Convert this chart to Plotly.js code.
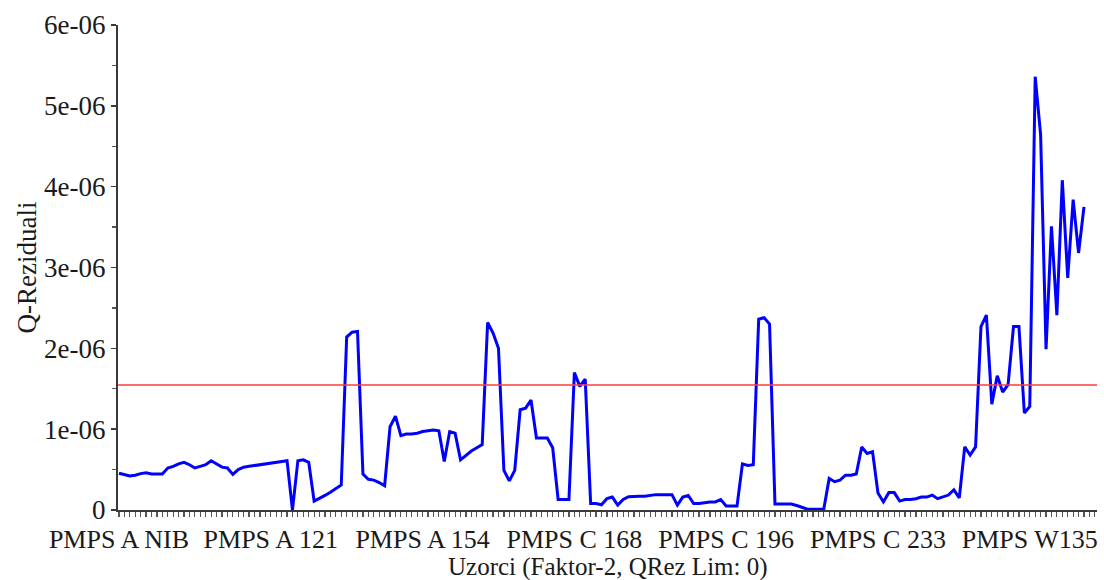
<!DOCTYPE html>
<html>
<head>
<meta charset="utf-8">
<script src="https://cdn.plot.ly/plotly-3.0.1.min.js"></script>
<style>html,body{margin:0;padding:0;background:#fff;}#chart{width:1104px;height:580px;}</style>
</head>
<body>
<div id="chart"></div>
<script>
// Q residuals per sample (units of 1e-06), sample order 0..178
const qResiduals = [
  0.454,0.44,0.42,0.43,0.45,0.46,0.445,0.445,0.445,0.52,
  0.54,0.57,0.59,0.56,0.52,0.54,0.56,0.61,0.57,0.53,
  0.52,0.44,0.50,0.53,0.54,0.55,0.56,0.565,0.58,0.59,
  0.60,0.61,0.0,0.61,0.62,0.59,0.11,0.14,0.18,0.22,
  0.27,0.31,2.14,2.20,2.21,0.445,0.38,0.37,0.34,0.30,
  1.03,1.16,0.92,0.94,0.94,0.95,0.97,0.98,0.99,0.98,
  0.60,0.97,0.95,0.62,0.68,0.73,0.77,0.81,2.32,2.19,
  2.00,0.49,0.36,0.49,1.24,1.26,1.36,0.89,0.89,0.89,
  0.77,0.13,0.13,0.13,1.70,1.53,1.62,0.08,0.08,0.065,
  0.14,0.16,0.06,0.13,0.165,0.17,0.17,0.17,0.18,0.19,
  0.19,0.19,0.19,0.06,0.16,0.18,0.08,0.08,0.09,0.10,
  0.10,0.13,0.05,0.05,0.05,0.57,0.55,0.56,2.36,2.38,
  2.30,0.075,0.075,0.075,0.075,0.055,0.03,0.01,0.01,0.01,
  0.01,0.39,0.35,0.37,0.43,0.43,0.445,0.78,0.70,0.72,
  0.21,0.10,0.215,0.215,0.11,0.13,0.13,0.14,0.16,0.16,
  0.185,0.14,0.16,0.185,0.25,0.15,0.78,0.68,0.78,2.27,
  2.41,1.31,1.66,1.46,1.55,2.27,2.27,1.20,1.28,5.36,
  4.64,1.99,3.51,2.41,4.08,2.87,3.84,3.18,3.75
];
const qScale = 1e-6;
const qLimit = 1.545;           // red confidence limit (1e-06)
const sampleLabels = ["PMPS A NIB","PMPS A 121","PMPS A 154","PMPS C 168","PMPS C 196","PMPS C 233","PMPS W135"];
const labelStep = 28;
const yTickValues = [0,1,2,3,4,5,6];
const yTickText = ["0","1e-06","2e-06","3e-06","4e-06","5e-06","6e-06"];
const xTitle = "Uzorci (Faktor-2, QRez Lim: 0)";
const yTitle = "Q-Reziduali";

const xs = qResiduals.map((_, i) => i);
const ys = qResiduals.map(v => v * qScale);
const labelIdx = sampleLabels.map((_, k) => k * labelStep);

const font = "Liberation Serif, Times New Roman, serif";
const axisCol = "#3a3a3a";
const txt = "#1a1a1a";

Plotly.newPlot("chart", [{
  x: xs, y: ys, type: "scatter", mode: "lines",
  line: {color: "#0000ff", width: 3},
  hoverinfo: "skip"
}], {
  width: 1104, height: 580,
  margin: {l: 118, r: 7, t: 25, b: 70, pad: 0},
  paper_bgcolor: "#fff", plot_bgcolor: "#fff",
  showlegend: false,
  font: {family: font, size: 27, color: txt},
  xaxis: {
    range: [-0.18, 180.4],
    showgrid: false, zeroline: false,
    showline: true, linecolor: axisCol, linewidth: 2,
    tickmode: "array", tickvals: labelIdx, ticktext: sampleLabels,
    ticks: "outside", ticklen: 5, tickwidth: 1.2, tickcolor: "#555",
    minor: {tickmode: "linear", tick0: 0, dtick: 1, ticks: "outside", ticklen: 5, tickwidth: 1.2, tickcolor: "#555"},
    tickfont: {family: font, size: 26, color: txt},
    ticklabelstandoff: 0
  },
  yaxis: {
    range: [0, 6e-6],
    showgrid: false, zeroline: false,
    showline: true, linecolor: axisCol, linewidth: 2,
    tickmode: "array", tickvals: yTickValues.map(v => v * qScale), ticktext: yTickText,
    ticks: "outside", ticklen: 5, tickwidth: 1.5, tickcolor: axisCol,
    minor: {tickmode: "linear", tick0: 0, dtick: 0.5e-6, ticks: "outside", ticklen: 4, tickwidth: 1.2, tickcolor: "#555"},
    tickfont: {family: font, size: 27, color: txt},
    title: {text: yTitle, font: {family: font, size: 27, color: txt}, standoff: 0}
  },
  annotations: [{
    text: xTitle, xref: "paper", yref: "paper", x: 0.5, y: 0,
    xanchor: "center", yanchor: "middle", yshift: -57, showarrow: false, borderpad: 0,
    font: {family: font, size: 25, color: txt}
  }],
  shapes: [{
    type: "line", xref: "paper", x0: 0, x1: 1, yref: "y",
    y0: qLimit * qScale, y1: qLimit * qScale,
    line: {color: "#ff3b3b", width: 1.5}
  }]
}, {displayModeBar: false, staticPlot: true});
</script>
</body>
</html>
